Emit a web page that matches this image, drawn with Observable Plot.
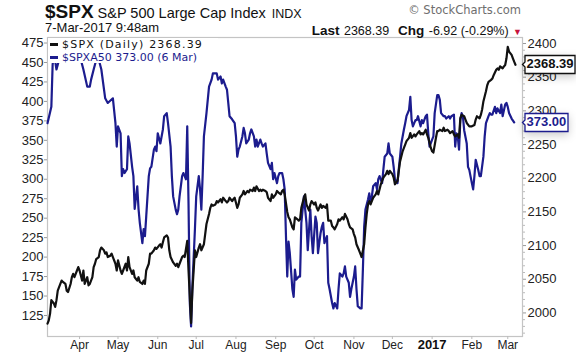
<!DOCTYPE html>
<html><head><meta charset="utf-8">
<script src="https://cdn.jsdelivr.net/npm/d3@7"></script>
<script src="https://cdn.jsdelivr.net/npm/@observablehq/plot@0.6"></script>
<style>
body{margin:0;background:#fff;}
#wrap{position:relative;width:576px;height:356px;overflow:hidden;font-family:"Liberation Sans",Arial,sans-serif;background:#fff;}
.abs{position:absolute;white-space:nowrap;line-height:1;}
#wrap svg{position:absolute;left:0;top:0;}
</style></head><body><div id="wrap"></div>
<script>
// ---- data: [days since 2016-03-07, value] ----
const spxA50 = [[0,372],[3,393],[4,447],[5,462],[7,441],[8,447],[10,460],[14,464],[18,462],[22,465],[25,460],[28,441],[31,419],[33,419],[34,428],[36,441],[37,447],[39,460],[42,441],[45,404],[47,398],[51,404],[53,372],[54,342],[55,368],[57,359],[58,304],[59,313],[60,308],[62,313],[63,355],[64,346],[66,316],[67,304],[68,262],[70,291],[71,262],[72,244],[74,218],[75,236],[76,227],[77,252],[79,304],[80,314],[81,316],[83,338],[84,342],[85,336],[86,359],[88,346],[89,355],[90,364],[91,381],[93,385],[94,372],[96,342],[97,304],[98,278],[100,261],[101,255],[102,261],[103,278],[105,304],[106,308],[107,304],[108,300],[109,368],[110,269],[111,141],[112,111],[113,162],[115,236],[116,278],[118,304],[119,287],[120,261],[121,304],[122,355],[124,385],[126,419],[128,428],[129,436],[132,436],[133,428],[135,432],[136,423],[137,428],[139,419],[140,415],[141,398],[142,381],[144,377],[146,372],[147,355],[148,329],[149,338],[150,342],[152,355],[153,366],[154,359],[155,346],[157,351],[158,359],[159,364],[161,355],[162,342],[163,351],[164,342],[166,351],[167,346],[168,342],[170,346],[171,333],[172,321],[174,313],[175,321],[176,300],[177,308],[179,295],[180,304],[181,308],[183,308],[184,300],[185,287],[186,227],[187,175],[188,220],[189,205],[191,159],[192,149],[193,184],[194,171],[196,175],[197,175],[198,244],[200,278],[201,261],[202,244],[203,209],[205,261],[206,227],[207,205],[209,252],[210,244],[211,205],[213,231],[214,239],[215,244],[216,218],[218,227],[219,167],[220,159],[222,141],[223,134],[224,141],[226,134],[227,159],[228,179],[230,175],[231,179],[232,188],[233,175],[235,167],[236,149],[237,159],[239,175],[240,188],[241,159],[242,137],[244,134],[245,134],[246,184],[247,239],[248,261],[250,274],[251,282],[252,269],[253,278],[254,291],[256,295],[257,287],[258,300],[259,304],[261,295],[262,313],[263,329],[265,333],[266,346],[267,333],[269,329],[270,316],[271,300],[273,295],[274,313],[275,329],[276,346],[278,364],[279,372],[280,381],[282,389],[283,406],[284,376],[285,368],[287,376],[288,376],[289,381],[291,368],[292,376],[293,372],[295,381],[296,383],[297,359],[298,342],[300,351],[301,355],[302,385],[304,408],[305,408],[306,402],[307,385],[309,381],[310,381],[311,378],[313,381],[314,378],[315,381],[317,383],[318,342],[319,359],[320,355],[321,338],[322,376],[323,385],[324,381],[325,363],[327,346],[328,316],[329,312],[331,295],[332,287],[333,304],[334,325],[336,312],[337,304],[338,304],[340,329],[341,355],[342,372],[344,381],[345,385],[346,383],[347,383],[349,393],[350,385],[351,391],[353,385],[354,396],[355,381],[357,396],[358,398],[359,393],[360,385],[362,378],[364,373]];

const spx = [[0,1984],[1,1989],[2,1999],[3,2019],[5,2014],[6,2009],[7,2019],[8,2033],[10,2043],[11,2048],[12,2046],[14,2043],[15,2033],[16,2031],[18,2043],[19,2053],[20,2058],[21,2053],[23,2063],[24,2068],[25,2063],[27,2048],[28,2063],[29,2043],[31,2053],[32,2041],[33,2043],[35,2053],[36,2068],[37,2073],[38,2080],[40,2083],[41,2093],[42,2097],[44,2093],[45,2088],[46,2090],[47,2083],[49,2085],[50,2088],[51,2083],[53,2073],[54,2063],[55,2078],[57,2063],[58,2058],[59,2063],[61,2073],[62,2063],[63,2083],[64,2068],[66,2058],[67,2063],[68,2053],[70,2048],[71,2053],[72,2046],[74,2043],[75,2048],[76,2043],[77,2063],[79,2073],[80,2088],[81,2088],[83,2093],[84,2097],[85,2095],[87,2100],[88,2102],[89,2097],[90,2105],[91,2112],[93,2115],[94,2112],[95,2093],[96,2083],[98,2075],[100,2070],[101,2073],[102,2068],[103,2073],[105,2083],[106,2085],[107,2083],[109,2107],[110,2063],[111,2024],[112,1985],[113,2033],[114,2063],[115,2093],[116,2083],[118,2097],[119,2102],[120,2093],[122,2102],[123,2117],[124,2132],[126,2147],[127,2156],[128,2161],[129,2159],[131,2161],[132,2166],[133,2164],[135,2169],[136,2164],[137,2171],[139,2166],[140,2164],[141,2166],[142,2171],[144,2166],[145,2169],[146,2171],[148,2156],[149,2161],[150,2171],[152,2176],[153,2181],[154,2176],[156,2181],[157,2179],[158,2183],[160,2181],[161,2186],[162,2181],[163,2188],[165,2181],[166,2183],[167,2181],[168,2183],[170,2181],[171,2179],[172,2171],[174,2166],[175,2176],[176,2171],[178,2176],[179,2181],[180,2179],[182,2176],[183,2181],[184,2183],[185,2176],[187,2150],[188,2142],[189,2139],[191,2127],[192,2124],[193,2142],[195,2139],[196,2137],[197,2139],[198,2156],[200,2171],[201,2176],[202,2161],[204,2152],[205,2161],[206,2166],[208,2161],[209,2164],[210,2156],[211,2152],[213,2161],[214,2156],[215,2159],[217,2156],[218,2161],[219,2137],[221,2137],[222,2129],[223,2127],[224,2124],[226,2132],[227,2139],[228,2137],[230,2142],[231,2139],[232,2147],[234,2139],[235,2132],[236,2127],[238,2124],[239,2117],[240,2112],[241,2102],[243,2093],[244,2088],[245,2083],[247,2102],[248,2127],[249,2147],[250,2161],[251,2166],[252,2161],[253,2166],[254,2171],[256,2176],[257,2181],[258,2176],[260,2191],[261,2196],[262,2201],[264,2206],[265,2211],[266,2206],[267,2211],[269,2206],[270,2201],[271,2191],[273,2196],[274,2211],[275,2225],[277,2240],[278,2245],[279,2250],[280,2255],[282,2260],[283,2267],[284,2260],[286,2265],[287,2262],[288,2265],[290,2270],[291,2265],[292,2267],[293,2265],[295,2272],[296,2265],[297,2260],[299,2245],[300,2240],[301,2238],[303,2260],[304,2270],[305,2270],[306,2272],[308,2270],[309,2275],[310,2270],[312,2272],[313,2270],[314,2267],[316,2270],[317,2265],[318,2262],[320,2265],[321,2260],[322,2289],[323,2294],[325,2292],[326,2287],[327,2282],[329,2277],[330,2277],[331,2277],[333,2279],[334,2287],[335,2292],[337,2289],[338,2294],[339,2302],[340,2314],[342,2329],[343,2338],[344,2343],[346,2346],[347,2348],[348,2353],[350,2361],[351,2363],[352,2361],[353,2366],[355,2363],[356,2366],[357,2368],[358,2378],[359,2395],[360,2388],[362,2383],[363,2378],[364,2373],[365,2368.39]];

const leftTicks = [125,150,175,200,225,250,275,300,325,350,375,400,425,450,475];
const rightTicks = [2000,2050,2100,2150,2200,2250,2300,2350,2400];
const monthTicks = ["2016-04-01","2016-05-01","2016-06-01","2016-07-01","2016-08-01","2016-09-01","2016-10-01","2016-11-01","2016-12-01","2017-01-01","2017-02-01","2017-03-01"];
const monthLabels = ["Apr","May","Jun","Jul","Aug","Sep","Oct","Nov","Dec","2017","Feb","Mar"];
const lastSpx = 2368.39, lastA50 = 373.00;

// ---- scales ----
const start = new Date(Date.UTC(2016,2,7));
const toDate = d => d3.utcDay.offset(start, d);
const xDomain = [start, new Date(Date.UTC(2017,2,12,12))];
const L = [98, 482.1];          // left axis domain (SPXA50)
const R = [1965, 2408.9];       // right axis domain (SPX)
const toL = v => L[0] + (v - R[0]) * (L[1] - L[0]) / (R[1] - R[0]);
const toR = v => R[0] + (v - L[0]) * (R[1] - R[0]) / (L[1] - L[0]);

const BLUE = "#1c1c8e";
const months = monthTicks.map((m,i) => ({date: new Date(m + "T00:00:00Z"), label: monthLabels[i]}));
const minorR = d3.range(1970, 2410, 10).filter(v => v % 50 !== 0);

const chart = Plot.plot({
  width: 576, height: 356,
  marginLeft: 47, marginRight: 54, marginTop: 37, marginBottom: 20,
  style: {fontFamily: "Liberation Sans, Arial, sans-serif", background: "transparent"},
  x: {type: "utc", domain: xDomain},
  y: {domain: L},
  marks: [
    Plot.frame({stroke: "#c4c4c4", strokeWidth: 1.2}),
    Plot.axisY({ticks: leftTicks, tickSize: 3, tickPadding: 1, fontSize: 13, label: null, stroke: "#999", fill:"#222"}),
    Plot.axisY({anchor: "right", ticks: rightTicks.map(toL), tickFormat: d => String(Math.round(toR(d))), tickSize: 3, tickPadding: 2, fontSize: 13, label: null, stroke: "#999", fill:"#222"}),
    Plot.axisY({anchor: "right", ticks: minorR.map(toL), tickFormat: () => "", tickSize: 2, label: null, stroke: "#bbb"}),
    Plot.axisX({ticks: months.map(d => d.date), tickFormat: () => "", tickSize: 3, label: null, stroke: "#bbb"}),
    Plot.text(months.filter(d => d.label !== "2017"), {x: "date", text: "label", frameAnchor: "bottom", dy: 12, fontSize: 12, fill: "#222"}),
    Plot.text(months.filter(d => d.label === "2017"), {x: "date", text: "label", frameAnchor: "bottom", dy: 12, fontSize: 13, fontWeight: "bold", fill: "#111"}),
    Plot.line(spxA50, {x: d => toDate(d[0]), y: d => d[1], stroke: BLUE, strokeWidth: 2.2, curve: "linear"}),
    Plot.line(spx, {x: d => toDate(d[0]), y: d => toL(d[1]), stroke: "#111", strokeWidth: 2.2}),
    Plot.tip([lastSpx], {y: d => toL(d), frameAnchor: "right", anchor: "left", title: d => d.toFixed(2), fill: "white", stroke: "#111", strokeWidth: 1.3, pointerSize: 5, textPadding: 1.5, fontSize: 13, fontWeight: "bold"}),
    Plot.tip([lastA50], {y: d => d, frameAnchor: "right", anchor: "left", title: d => d.toFixed(2), fill: "white", stroke: BLUE, strokeWidth: 1.3, pointerSize: 5, textPadding: 1.5, fontSize: 13, fontWeight: "bold"})
  ]
});

const wrap = document.getElementById("wrap");
wrap.appendChild(chart);
// drop empty tick labels
d3.select(chart).selectAll("text").filter(function() { return this.textContent.trim() === ""; }).remove();
// style tip texts
const tips = d3.select(chart).selectAll('g[aria-label="tip"]').nodes();
["#111", BLUE].forEach((c,i) => {
  if (!tips[i]) return;
  d3.select(tips[i]).selectAll("text, tspan").attr("fill", c).style("fill", c).attr("font-weight","bold").attr("font-size", 13).attr("font-family","Liberation Sans, Arial, sans-serif");
});

function add(html, css) {
  const d = document.createElement("div");
  d.className = "abs"; d.innerHTML = html; Object.assign(d.style, css); wrap.appendChild(d); return d;
}
// legend (white box covers lines)
add(`<div style="display:flex;align-items:center;height:13px;color:#111"><span style="display:inline-block;width:8px;height:3px;background:#111;margin-right:4px"></span><span style="letter-spacing:1.2px">$SPX (Daily) ${lastSpx.toFixed(2)}</span></div>
<div style="display:flex;align-items:center;height:13px;color:${BLUE}"><span style="display:inline-block;width:8px;height:3px;background:${BLUE};margin-right:4px"></span><span>$SPXA50 ${lastA50.toFixed(2)} (6 Mar)</span></div>`,
  {left: "48px", top: "38px", width: "168px", height: "25px", background: "#fff", paddingLeft: "2px", fontFamily: "DejaVu Sans, sans-serif", fontSize: "11px"});
// header
add(`<b style="font-size:19px">$SPX</b><span style="font-size:14.5px;margin-left:4px">S&amp;P 500 Large Cap Index</span><span style="font-size:12.5px;margin-left:6px">INDX</span>`,
  {left: "45px", top: "2px", color: "#111", display: "flex", alignItems: "baseline"});
add(`7-Mar-2017 9:48am`, {left: "45px", top: "21px", fontSize: "13px", color: "#111"});
add(`© StockCharts.com`, {right: "55px", top: "5px", fontSize: "11.5px", color: "#6e6e6e", fontFamily: "DejaVu Sans, sans-serif"});
add(`<b style="font-size:13.5px">Last</b> <span style="font-size:12.5px">2368.39</span>&nbsp; <b style="font-size:13.5px">Chg</b> <span style="font-size:12.5px">-6.92 (-0.29%)</span> <span style="color:#c8143c;font-size:9px">&#9660;</span>`,
  {right: "54px", top: "22px", color: "#111"});
</script></body></html>
